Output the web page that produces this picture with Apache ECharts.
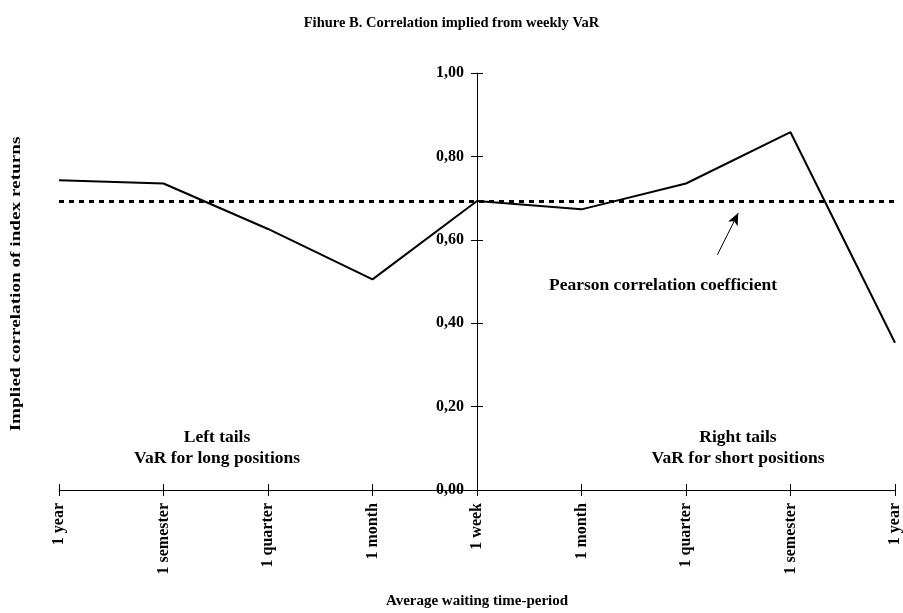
<!DOCTYPE html>
<html>
<head>
<meta charset="utf-8">
<script src="https://cdn.jsdelivr.net/npm/echarts@6/dist/echarts.min.js"></script>
<style>
  html, body { margin: 0; padding: 0; background: #fff; }
  #chart { width: 903px; height: 613px; }
</style>
</head>
<body>
<div id="chart"></div>
<script>
// Correlation implied from weekly VaR — left tails / right tails around "1 week"
const categories = ['1 year', '1 semester', '1 quarter', '1 month', '1 week',
                    '1 month', '1 quarter', '1 semester', '1 year'];
const correlation = [0.743, 0.735, 0.626, 0.505, 0.693, 0.673, 0.735, 0.858, 0.353];
const pearson = 0.692;
const yTicks = [0, 0.2, 0.4, 0.6, 0.8, 1.0];

const FONT = "'Liberation Serif', 'Times New Roman', serif";
const center = (categories.length - 1) / 2;   // the y axis sits on "1 week"

const GRID_L = 59, GRID_R = 8;
const yOffset = -(903 - GRID_L - GRID_R) / 2;  // push the y axis to the middle

const chart = echarts.init(document.getElementById('chart'));

const txt = { fontFamily: FONT, fontWeight: 'bold', fontSize: 17.5, fill: '#000' };

chart.setOption({
  animation: false,
  title: {
    text: 'Fihure B. Correlation implied from weekly VaR',
    left: 'center',
    top: 11,
    textStyle: { fontFamily: FONT, fontWeight: 'bold', fontSize: 14.5, color: '#000' }
  },
  grid: { left: GRID_L, right: GRID_R, top: 73, bottom: 123, containLabel: false, outerBoundsMode: 'none' },
  xAxis: [{
    type: 'value',
    min: -center,
    max: center,
    interval: 1,
    name: 'Average waiting time-period',
    nameLocation: 'middle',
    nameGap: 104,
    nameTextStyle: { fontFamily: FONT, fontWeight: 'bold', fontSize: 15, color: '#000' },
    axisLine: { onZero: false, lineStyle: { color: '#000', width: 1 } },
    axisTick: { show: true, length: 6, lineStyle: { color: '#000' } },
    splitLine: { show: false },
    axisLabel: {
      rotate: 90,
      margin: 13,
      fontFamily: FONT, fontWeight: 'bold', fontSize: 16, color: '#000',
      formatter: v => categories[Math.round(v + center)] || ''
    }
  }, {
    type: 'value',
    min: -center,
    max: center,
    interval: 1,
    position: 'bottom',
    axisLine: { show: false, onZero: false },
    axisTick: { show: true, inside: true, length: 6, lineStyle: { color: '#000' } },
    axisLabel: { show: false },
    splitLine: { show: false }
  }],
  yAxis: [{
    type: 'value',
    min: 0,
    max: 1,
    interval: 0.2,
    position: 'left',
    offset: yOffset,
    axisLine: { show: true, onZero: false, lineStyle: { color: '#000', width: 1 } },
    axisTick: { show: true, length: 6, lineStyle: { color: '#000' } },
    splitLine: { show: false },
    axisLabel: {
      margin: 13,
      fontFamily: FONT, fontWeight: 'bold', fontSize: 16, color: '#000',
      formatter: v => yTicks.indexOf(Math.round(v * 10) / 10) >= 0 ? v.toFixed(2).replace('.', ',') : ''
    }
  }, {
    type: 'value',
    min: 0,
    max: 1,
    interval: 0.2,
    position: 'left',
    offset: yOffset,
    axisLine: { show: false, onZero: false },
    axisTick: { show: true, inside: true, length: 6, lineStyle: { color: '#000' } },
    axisLabel: { show: false },
    splitLine: { show: false }
  }],
  graphic: [
    { type: 'text', x: 16, y: 284, rotation: Math.PI / 2, scaleX: 1.28,
      style: Object.assign({}, txt, { text: 'Implied correlation of index returns', fontSize: 15, align: 'center', verticalAlign: 'middle' }) },
    { type: 'text', x: 217, y: 437, style: Object.assign({ text: 'Left tails', align: 'center', verticalAlign: 'middle' }, txt) },
    { type: 'text', x: 217, y: 458, style: Object.assign({ text: 'VaR for long positions', align: 'center', verticalAlign: 'middle' }, txt) },
    { type: 'text', x: 738, y: 437, style: Object.assign({ text: 'Right tails', align: 'center', verticalAlign: 'middle' }, txt) },
    { type: 'text', x: 738, y: 458, style: Object.assign({ text: 'VaR for short positions', align: 'center', verticalAlign: 'middle' }, txt) },
    { type: 'text', x: 663, y: 285, style: Object.assign({ text: 'Pearson correlation coefficient', align: 'center', verticalAlign: 'middle' }, txt) }
  ],
  series: [{
    type: 'line',
    data: correlation.map((v, i) => [i - center, v]),
    symbol: 'none',
    lineStyle: { color: '#000', width: 2 },
    markLine: {
      silent: true,
      symbol: 'none',
      label: { show: false },
      lineStyle: { color: '#000', width: 3, type: [5, 5] },
      data: [
        [{ coord: [-center, pearson] }, { coord: [center, pearson] }]
      ]
    }
  }, {
    // arrow pointing at the Pearson line
    type: 'line',
    data: [],
    markLine: {
      silent: true,
      symbol: ['none', 'arrow'],
      symbolSize: [8, 12],
      label: { show: false },
      lineStyle: { color: '#000', width: 1, type: 'solid' },
      data: [
        [{ coord: [2.30, 0.564] }, { coord: [2.50, 0.664] }]
      ]
    }
  }]
});
</script>
</body>
</html>
